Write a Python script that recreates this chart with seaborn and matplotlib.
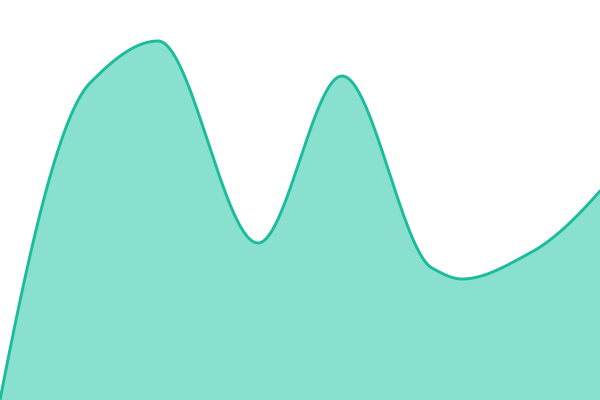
import numpy as np
import pandas as pd
import matplotlib
matplotlib.use("Agg")
import matplotlib.pyplot as plt
import seaborn as sns

# Knots (x position, value)
x_knots = [0, 90, 158, 258, 342, 432, 462, 530, 600]
values = [0, 317, 359, 157, 324, 132, 121, 147, 209]

line_color = "#1abc9c"
fill_color = "#8ae0cf"


def pchip(x, y, xs):
    # monotone cubic (Fritsch-Carlson) for a smooth curve through the knots
    x = np.asarray(x, float)
    y = np.asarray(y, float)
    h = np.diff(x)
    d = np.diff(y) / h
    m = np.zeros_like(y)
    for k in range(1, len(x) - 1):
        if d[k - 1] * d[k] > 0:
            w1 = 2 * h[k] + h[k - 1]
            w2 = h[k] + 2 * h[k - 1]
            m[k] = (w1 + w2) / (w1 / d[k - 1] + w2 / d[k])
    # three-point end slopes
    m[0] = ((2 * h[0] + h[1]) * d[0] - h[0] * d[1]) / (h[0] + h[1])
    m[-1] = ((2 * h[-1] + h[-2]) * d[-1] - h[-1] * d[-2]) / (h[-1] + h[-2])
    idx = np.clip(np.searchsorted(x, xs) - 1, 0, len(h) - 1)
    t = (xs - x[idx]) / h[idx]
    h00 = 2 * t**3 - 3 * t**2 + 1
    h10 = t**3 - 2 * t**2 + t
    h01 = -2 * t**3 + 3 * t**2
    h11 = t**3 - t**2
    return h00 * y[idx] + h10 * h[idx] * m[idx] + h01 * y[idx + 1] + h11 * h[idx] * m[idx + 1]


xs = np.linspace(0, 600, 1201)
df = pd.DataFrame({"x": xs, "y": pchip(x_knots, values, xs)})

sns.set_style("white")
fig = plt.figure(figsize=(6, 4), dpi=100)
ax = fig.add_axes([0, 0, 1, 1])
ax.fill_between(df["x"], df["y"], 0, color=fill_color, linewidth=0)
sns.lineplot(data=df, x="x", y="y", ax=ax, color=line_color, linewidth=2.1)
ax.set_xlim(0, 600)
ax.set_ylim(0, 400)
ax.axis("off")
fig.savefig("out.png", dpi=100)
